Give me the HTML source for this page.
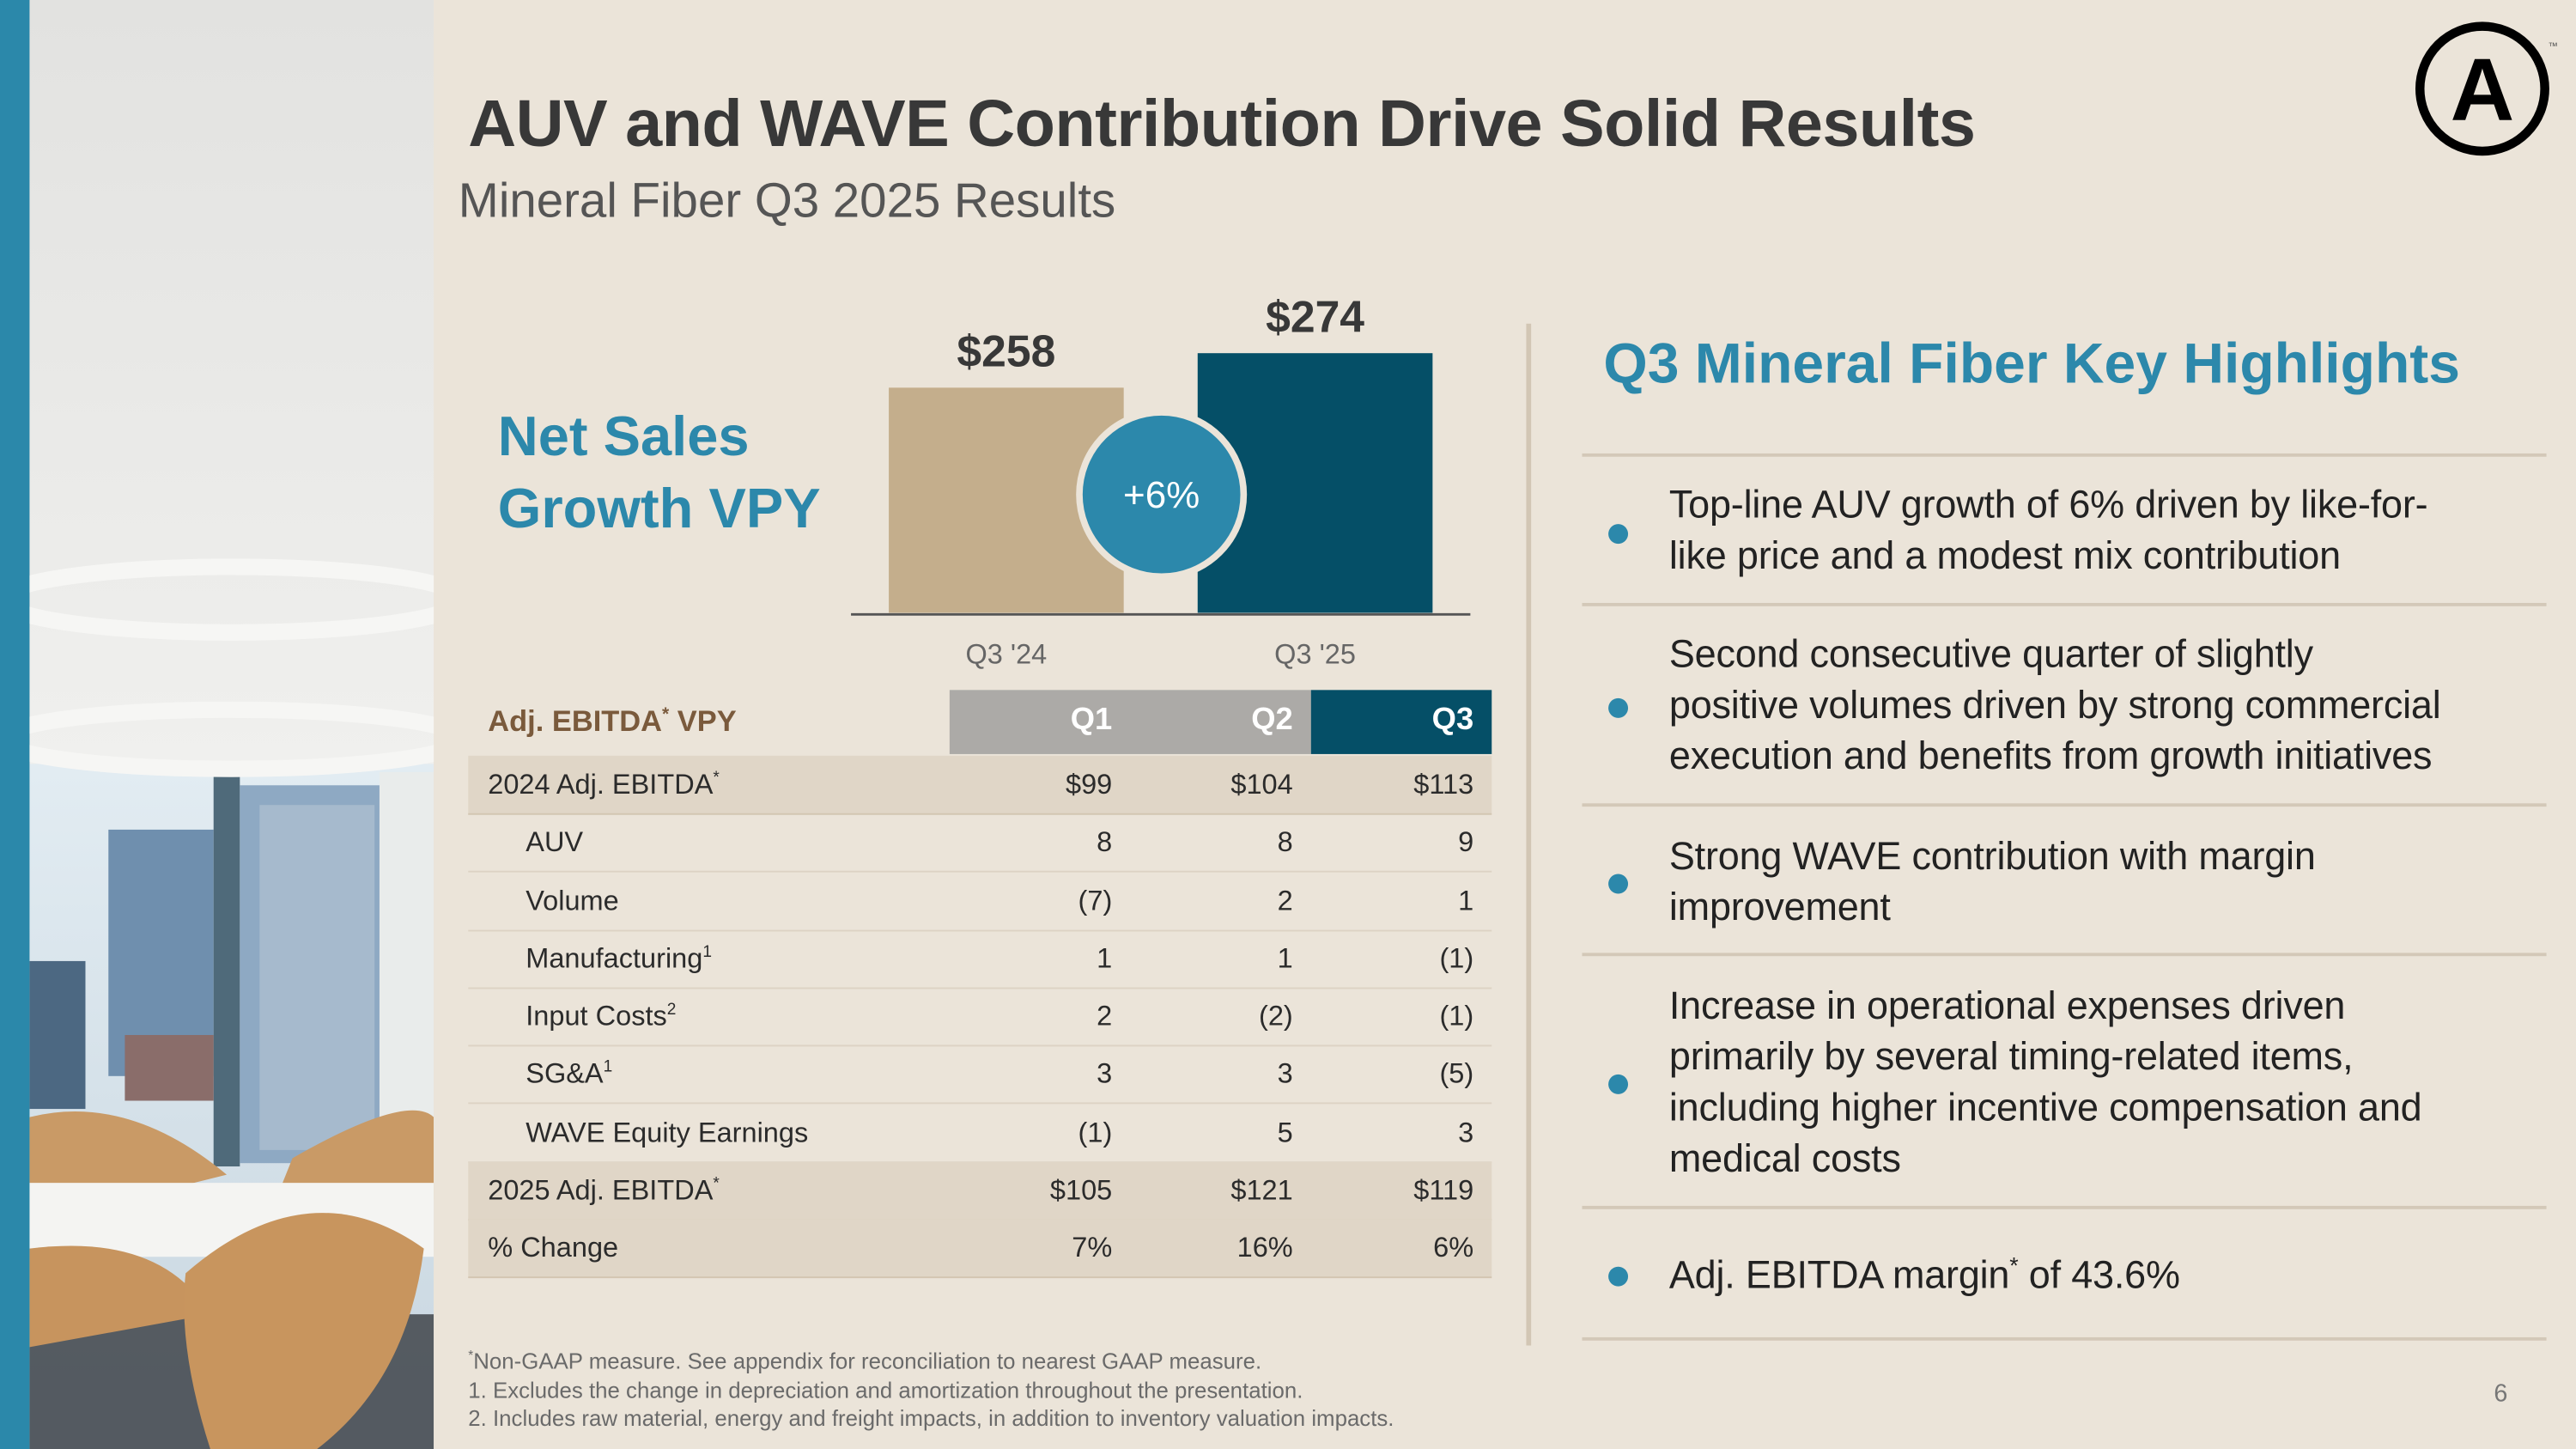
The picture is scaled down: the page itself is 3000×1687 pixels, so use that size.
<!DOCTYPE html>
<html><head><meta charset="utf-8">
<style>
html,body{margin:0;padding:0;width:3000px;height:1687px;overflow:hidden;background:#ebe4d9}
#stage{position:absolute;left:0;top:0;width:1568px;height:882px;transform-origin:0 0;transform:scale(1.91327,1.91270);font-family:"Liberation Sans",sans-serif;background:#ebe4d9}
.abs{position:absolute}
sup{line-height:0;vertical-align:super}
.row{position:absolute;left:285px;width:623px;height:35px;font-size:17px;color:#2b2b2b;line-height:35px}
.row span.l{position:absolute;left:12px}
.row span.v{position:absolute;text-align:right;width:100px}
.sep{position:absolute;left:963px;width:587px;height:2px;background:#d3c8b8}
.bul{position:absolute;left:979px;width:12px;height:12px;border-radius:50%;background:#2c88ab}
.bt{position:absolute;left:1016px;font-size:23.5px;color:#222;line-height:31px;letter-spacing:-0.1px;white-space:nowrap}
</style></head><body>
<div id="stage">
  <div class="abs" style="left:0;top:0;width:18px;height:882px;background:#2b88aa"></div>
  <svg class="abs" style="left:18px;top:0" width="246" height="882" viewBox="0 0 246 882">
    <defs>
      <linearGradient id="ceil" x1="0" y1="0" x2="0" y2="1"><stop offset="0" stop-color="#e2e2e0"/><stop offset="1" stop-color="#f0f0ee"/></linearGradient>
      <linearGradient id="sky" x1="0" y1="0" x2="0" y2="1"><stop offset="0" stop-color="#e2ecf2"/><stop offset="1" stop-color="#c8d6e0"/></linearGradient>
    </defs>
    <rect width="246" height="470" fill="url(#ceil)"/>
    <rect y="465" width="246" height="417" fill="url(#sky)"/>
    <rect x="48" y="505" width="64" height="150" fill="#6f8fae"/>
    <rect x="0" y="585" width="34" height="90" fill="#4c6882"/>
    <rect x="112" y="470" width="16" height="240" fill="#4f6a7a"/>
    <rect x="128" y="478" width="85" height="230" fill="#8ea9c3"/>
    <rect x="140" y="490" width="70" height="210" fill="#b5c6d4" opacity="0.6"/>
    <rect x="213" y="470" width="33" height="240" fill="#e9eceb"/>
    <rect x="58" y="630" width="54" height="40" fill="#8a6d6a"/>
    <ellipse cx="123" cy="365" rx="140" ry="20" fill="none" stroke="#f6f6f4" stroke-width="10"/>
    <ellipse cx="123" cy="450" rx="140" ry="18" fill="none" stroke="#f6f6f4" stroke-width="10"/>
    <path d="M0 680 Q60 665 120 715 L60 730 L0 730Z" fill="#c99a66"/>
    <path d="M160 705 Q230 665 246 680 L246 730 L150 730Z" fill="#c99a66"/>
    <rect x="0" y="720" width="246" height="45" fill="#f4f4f2"/>
    <rect x="0" y="800" width="246" height="82" fill="#3f444a" opacity="0.85"/>
    <path d="M0 760 Q80 750 110 800 L0 820Z" fill="#c7945e"/>
    <path d="M95 775 Q170 710 240 760 Q230 840 175 882 L110 882 Q90 820 95 775Z" fill="#c8955e"/>
  </svg>

  <div class="abs" style="left:285px;top:52px;font-size:40.5px;font-weight:bold;color:#383838;letter-spacing:-0.3px;white-space:nowrap">AUV and WAVE Contribution Drive Solid Results</div>
  <div class="abs" style="left:279px;top:106px;font-size:29.5px;color:#555;white-space:nowrap">Mineral Fiber Q3 2025 Results</div>

  <svg class="abs" style="left:1466px;top:10px" width="95" height="90">
    <circle cx="45" cy="44" r="38" fill="none" stroke="#000" stroke-width="5.5"/>
    <text x="45" y="63" text-anchor="middle" font-family="Liberation Sans" font-weight="bold" font-size="54" fill="#000">A</text>
    <text x="85" y="20" font-family="Liberation Sans" font-size="6" fill="#555">™</text>
  </svg>

  <div class="abs" style="left:303px;top:244px;font-size:34px;font-weight:bold;color:#2c88ab;line-height:44px">Net Sales<br>Growth VPY</div>

  <svg id="chart" class="abs" style="left:500px;top:160px" width="420" height="260"></svg>

  <div class="abs" style="left:929px;top:197px;width:3px;height:622px;background:#d2c6b4"></div>

  <div class="abs" style="left:297px;top:429px;font-size:18px;font-weight:bold;color:#7a5a3c">Adj. EBITDA<sup style="font-size:11px">*</sup> VPY</div>
  <div class="abs" style="left:578px;top:420px;width:220px;height:39px;background:#acaaa7"></div>
  <div class="abs" style="left:798px;top:420px;width:110px;height:39px;background:#054f67"></div>
  <div class="abs" style="left:577px;top:428px;width:100px;text-align:right;font-size:19px;font-weight:bold;color:#fff">Q1</div>
  <div class="abs" style="left:687px;top:428px;width:100px;text-align:right;font-size:19px;font-weight:bold;color:#fff">Q2</div>
  <div class="abs" style="left:797px;top:428px;width:100px;text-align:right;font-size:19px;font-weight:bold;color:#fff">Q3</div>
  <div id="tbl"></div>

  <div class="abs" style="left:976px;top:203px;font-size:34.5px;font-weight:bold;color:#2c88ab;white-space:nowrap">Q3 Mineral Fiber Key Highlights</div>
  <div class="sep" style="top:276px"></div>
  <div class="bul" style="top:319px"></div>
  <div class="bt" style="top:292px">Top-line AUV growth of 6% driven by like-for-<br>like price and a modest mix contribution</div>
  <div class="sep" style="top:367px"></div>
  <div class="bul" style="top:425px"></div>
  <div class="bt" style="top:383px">Second consecutive quarter of slightly<br>positive volumes driven by strong commercial<br>execution and benefits from growth initiatives</div>
  <div class="sep" style="top:489px"></div>
  <div class="bul" style="top:532px"></div>
  <div class="bt" style="top:506px">Strong WAVE contribution with margin<br>improvement</div>
  <div class="sep" style="top:580px"></div>
  <div class="bul" style="top:654px"></div>
  <div class="bt" style="top:597px">Increase in operational expenses driven<br>primarily by several timing-related items,<br>including higher incentive compensation and<br>medical costs</div>
  <div class="sep" style="top:734px"></div>
  <div class="bul" style="top:771px"></div>
  <div class="bt" style="top:761px">Adj. EBITDA margin<sup style="font-size:14px">*</sup> of 43.6%</div>
  <div class="sep" style="top:814px"></div>

  <div class="abs" style="left:285px;top:820px;font-size:13.5px;color:#6a6a6a;line-height:17.5px;white-space:nowrap"><sup style="font-size:8px">*</sup>Non-GAAP measure. See appendix for reconciliation to nearest GAAP measure.<br>1. Excludes the change in depreciation and amortization throughout the presentation.<br>2. Includes raw material, energy and freight impacts, in addition to inventory valuation impacts.</div>
  <div class="abs" style="left:1518px;top:840px;font-size:15px;color:#777">6</div>
</div>

<script>
var categories = ["Q3 '24", "Q3 '25"];
var salesValues = [258, 274];
var valueLabels = ["$258", "$274"];
var growthLabel = "+6%";
var barColors = ["#c4ae8c", "#054f67"];

var svgNS = "http://www.w3.org/2000/svg";
var chart = document.getElementById('chart');
var baseY = 213, yMin = 153.6, kPx = 1.3125;
function yScale(v){ return baseY - (v - yMin) * kPx; }
function xScale(i){ return 41 + i * 188; }
var barW = 143;
for (var i = 0; i < salesValues.length; i++) {
  var r = document.createElementNS(svgNS, 'rect');
  
  
  r.setAttribute('x', xScale(i));
  r.setAttribute('y', yScale(salesValues[i]));
  r.setAttribute('width', barW);
  r.setAttribute('height', baseY - yScale(salesValues[i]));
  r.setAttribute('fill', barColors[i]);
  chart.appendChild(r);
  var t = document.createElementNS(svgNS, 'text');
  
  
  t.setAttribute('x', xScale(i) + barW / 2);
  t.setAttribute('y', yScale(salesValues[i]) - 13);
  t.setAttribute('text-anchor', 'middle');
  t.setAttribute('font-family', 'Liberation Sans');
  t.setAttribute('font-weight', 'bold');
  t.setAttribute('font-size', '27');
  t.setAttribute('fill', '#383838');
  t.textContent = valueLabels[i];
  chart.appendChild(t);
  var c = document.createElementNS(svgNS, 'text');
  
  
  c.setAttribute('x', xScale(i) + barW / 2);
  c.setAttribute('y', 244);
  c.setAttribute('text-anchor', 'middle');
  c.setAttribute('font-family', 'Liberation Sans');
  c.setAttribute('font-size', '17');
  c.setAttribute('fill', '#666');
  c.textContent = categories[i];
  chart.appendChild(c);
}
var ax = document.createElementNS(svgNS, 'line');


ax.setAttribute('x1', 18); ax.setAttribute('x2', 395);
ax.setAttribute('y1', baseY + 1); ax.setAttribute('y2', baseY + 1);
ax.setAttribute('stroke', '#555'); ax.setAttribute('stroke-width', '1.5');
chart.appendChild(ax);
var circ = document.createElementNS(svgNS, 'circle');


circ.setAttribute('cx', 207); circ.setAttribute('cy', 141); circ.setAttribute('r', 50);
circ.setAttribute('fill', '#2c88ab'); circ.setAttribute('stroke', '#ebe4d9'); circ.setAttribute('stroke-width', '4');
chart.appendChild(circ);
var gt = document.createElementNS(svgNS, 'text');


gt.setAttribute('x', 207); gt.setAttribute('y', 149);
gt.setAttribute('text-anchor', 'middle');
gt.setAttribute('font-family', 'Liberation Sans');
gt.setAttribute('font-size', '23');
gt.setAttribute('fill', '#fff');
gt.textContent = growthLabel;
chart.appendChild(gt);

var rowLabels = ["2024 Adj. EBITDA*", "AUV", "Volume", "Manufacturing¹", "Input Costs²", "SG&A¹", "WAVE Equity Earnings", "2025 Adj. EBITDA*", "% Change"];
var q1Values = ["$99", "8", "(7)", "1", "2", "3", "(1)", "$105", "7%"];
var q2Values = ["$104", "8", "2", "1", "(2)", "3", "5", "$121", "16%"];
var q3Values = ["$113", "9", "1", "(1)", "(1)", "(5)", "3", "$119", "6%"];
var rowShaded = [true, false, false, false, false, false, false, true, true];
var tbl = document.getElementById('tbl');
for (var j = 0; j < rowLabels.length; j++) {
  var row = document.createElement('div');
  row.className = 'row';
  
  
  row.style.top = (460 + j * 35.25) + 'px';
  row.style.background = rowShaded[j] ? '#e0d6c7' : 'transparent';
  row.style.borderBottom = '1.5px solid ' + (rowShaded[j] ? '#d3c6b2' : '#ddd3c4');
  var lab = rowLabels[j].replace('*', '<sup style="font-size:10px">*</sup>').replace('¹','<sup style="font-size:10px">1</sup>').replace('²','<sup style="font-size:10px">2</sup>');
  var indent = rowShaded[j] ? 12 : 35;
  row.innerHTML = '<span class="l" style="left:' + indent + 'px">' + lab + '</span>' +
    '<span class="v" style="left:292px">' + q1Values[j] + '</span>' +
    '<span class="v" style="left:402px">' + q2Values[j] + '</span>' +
    '<span class="v" style="left:512px">' + q3Values[j] + '</span>';
  tbl.appendChild(row);
}
</script>
</body></html>
